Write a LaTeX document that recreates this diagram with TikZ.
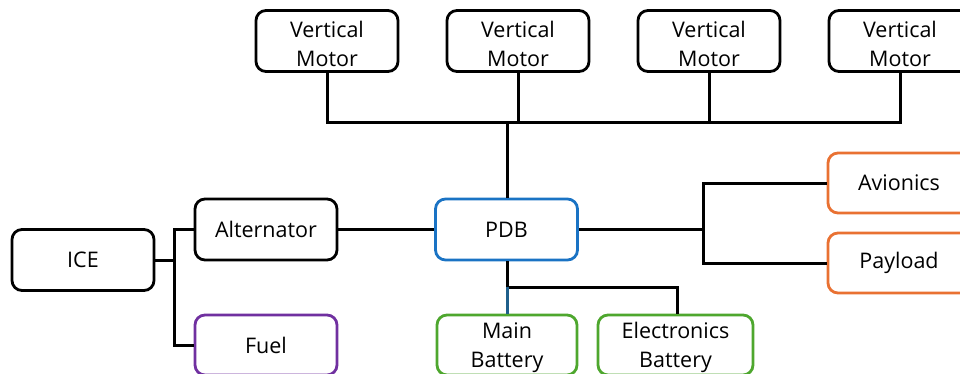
\documentclass[tikz,border=0pt]{standalone}
\usepackage{fontspec}
\setmainfont{Open Sans}
\definecolor{pdbblue}{HTML}{1A73C4}
\definecolor{batgreen}{HTML}{4EA72E}
\definecolor{loadorange}{HTML}{E97132}
\definecolor{fuelpurple}{HTML}{7030A0}
\definecolor{linkblue}{HTML}{1F5F8B}
\newcommand{\tallstrut}{\rule{0pt}{22pt}}
\begin{document}
\begin{tikzpicture}[x=1pt,y=-1pt,
  blk/.style={draw=black,line width=2.8pt,rounded corners=10pt,fill=white,
    minimum width=142pt,minimum height=61pt,inner sep=0pt,align=center,
    font=\fontsize{21.5}{29}\selectfont},
  wire/.style={line width=3pt,draw=black}]
\useasboundingbox (0,0) rectangle (960,373);
\clip (0,0) rectangle (960,373);
% motors
\node[blk] (m1) at (327,41) {\tallstrut Vertical\\Motor};
\node[blk] (m2) at (518,41) {\tallstrut Vertical\\Motor};
\node[blk] (m3) at (709,41) {\tallstrut Vertical\\Motor};
\node[blk] (m4) at (900,41) {\tallstrut Vertical\\Motor};
% left side
\node[blk] (ice) at (83,260) {ICE};
\node[blk] (alt) at (266,229.5) {Alternator};
\node[blk,draw=fuelpurple,minimum height=60pt] (fuel) at (266,345) {Fuel};
% center
\node[blk,draw=pdbblue] (pdb) at (506.5,229.5) {PDB};
\node[blk,draw=batgreen,minimum width=140pt,minimum height=60pt] (mb) at (507,345) {\tallstrut Main\\Battery};
\node[blk,draw=batgreen,minimum width=155pt,minimum height=60pt] (eb) at (675.5,345) {\tallstrut Electronics\\Battery};
% right
\node[blk,draw=loadorange,minimum height=60pt] (av) at (899,183) {Avionics};
\node[blk,draw=loadorange,minimum height=60pt] (pay) at (899,263) {Payload};
% junctions
\coordinate (bus) at (507,122);
\coordinate (j1) at (174,260);
\coordinate (j2) at (703,229.5);
\coordinate (j3) at (507,287);
% motor bus
\draw[wire] (m1.south) |- (bus);
\draw[wire] (m4.south) |- (bus);
\draw[wire] (m2.south) -- (m2.south |- bus);
\draw[wire] (m3.south) -- (m3.south |- bus);
\draw[wire] (pdb.north -| bus) -- (bus);
% left
\draw[wire] (ice.east) -- (j1);
\draw[wire] (alt.west) -| (j1) |- (fuel.west);
\draw[wire] (alt.east) -- (pdb.west);
% right
\draw[wire] (pdb.east) -- (j2);
\draw[wire] (av.west) -| (j2) |- (pay.west);
% batteries
\draw[wire] (pdb.south -| j3) -- (j3) -| (eb.north -| 677,0);
\draw[wire,draw=linkblue] (j3) -- (mb.north);
\end{tikzpicture}
\end{document}
